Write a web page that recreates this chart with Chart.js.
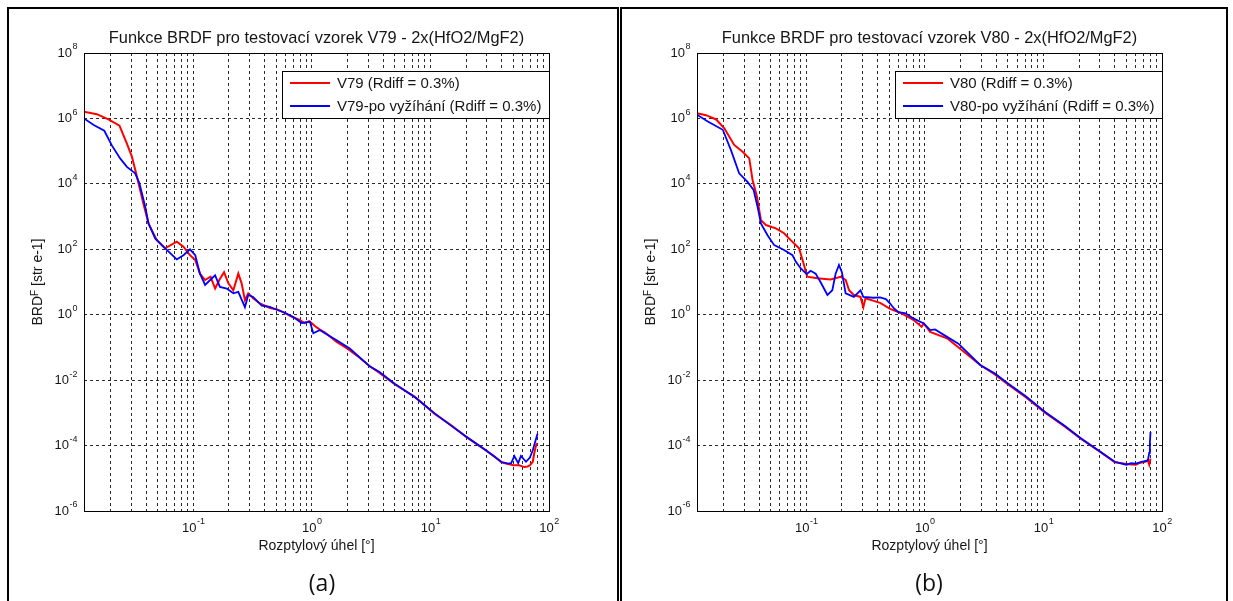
<!DOCTYPE html>
<html>
<head>
<meta charset="utf-8">
<title>Funkce BRDF – V79 / V80</title>
<script src="https://cdn.jsdelivr.net/npm/chart.js@4.4.1/dist/chart.umd.min.js"></script>
<style>
  html, body { margin: 0; padding: 0; background: #fff; width: 1233px; height: 601px; overflow: hidden; }
  .frame { position: absolute; border: 2px solid #000; border-bottom: none; box-sizing: border-box; }
  canvas { position: absolute; left: 0; top: 0; }
  .caption { position: absolute; font-family: "Open Sans", "Liberation Sans", sans-serif; font-size: 23px; color: #111; transform: translateX(-50%); line-height: 1; }
</style>
</head>
<body>
<div class="frame" style="left:7px;top:7px;width:612px;height:620px"></div>
<div class="frame" style="left:620px;top:7px;width:608px;height:620px"></div>
<canvas id="chartA" width="1233" height="601"></canvas>
<canvas id="chartB" width="1233" height="601"></canvas>
<div class="caption" style="left:322px;top:571px">(a)</div>
<div class="caption" style="left:929px;top:571px">(b)</div>

<script>
// ---- axis ranges and ticks (log-log) ----
const X_MIN = 0.012, X_MAX = 100;
const Y_MIN = 1e-6, Y_MAX = 1e8;
const X_LABEL_EXP = [-1, 0, 1, 2];
const Y_LABEL_EXP = [-6, -4, -2, 0, 2, 4, 6, 8];
const X_GRID_MANTISSA = [1, 2, 3, 4, 5, 6, 7, 8, 9];
const X_GRID_DECADES = [-2, -1, 0, 1];

// ---- measured BRDF curves: [scatter angle (deg), BRDF (sr^-1)] ----
const V79 = [
  [0.012, 1.6e6], [0.0154, 1.35e6], [0.0193, 9.3e5], [0.0239, 6.0e5], [0.0276, 1.7e5],
  [0.0304, 6.8e4], [0.033, 2.1e4], [0.0352, 8.0e3], [0.038, 2.5e3], [0.042, 610],
  [0.0493, 190], [0.058, 107], [0.0727, 170], [0.0827, 120], [0.094, 66], [0.104, 47],
  [0.114, 18], [0.126, 11.5], [0.14, 14.5], [0.153, 6.3], [0.166, 11.5], [0.182, 20],
  [0.198, 9.1], [0.218, 5.6], [0.24, 18], [0.256, 9.1], [0.273, 2.8], [0.291, 4.5],
  [0.32, 3.2], [0.365, 2.2], [0.444, 1.6], [0.5, 1.5], [0.574, 1.2], [0.685, 0.85],
  [0.79, 0.7], [0.87, 0.55], [0.95, 0.64], [1.0, 0.55], [1.06, 0.45], [1.17, 0.35],
  [1.3, 0.28], [1.62, 0.148], [2.0, 0.092], [2.5, 0.05], [3.1, 0.026], [3.7, 0.017],
  [5.0, 7.5e-3], [7.4, 3.1e-3], [10.8, 9.5e-4], [15, 4.2e-4], [20, 1.85e-4], [29, 7.3e-5],
  [35, 4.5e-5], [40, 3.0e-5], [46.5, 2.7e-5], [50, 2.5e-5], [56, 2.5e-5], [62, 2.2e-5],
  [66, 2.3e-5], [69, 2.5e-5], [73, 3.2e-5], [75, 5.7e-5], [78, 1.05e-4], [80, 1.2e-4]
];
const V79_ANNEALED = [
  [0.012, 1.0e6], [0.0145, 6.3e5], [0.0178, 4.2e5], [0.0206, 1.5e5], [0.0242, 6.0e4],
  [0.0276, 3.3e4], [0.0324, 2.1e4], [0.0352, 1.05e4], [0.0394, 2.0e3], [0.042, 620],
  [0.0478, 215], [0.056, 120], [0.0727, 49], [0.0827, 66], [0.094, 100], [0.104, 66],
  [0.114, 18], [0.126, 8.1], [0.139, 11.5], [0.153, 16], [0.168, 7.1], [0.192, 6.3],
  [0.218, 4.5], [0.24, 5.0], [0.273, 1.7], [0.291, 4.0], [0.32, 3.5], [0.378, 1.9],
  [0.444, 1.75], [0.473, 1.55], [0.593, 1.15], [0.7, 0.85], [0.82, 0.56], [0.964, 0.61],
  [1.03, 0.27], [1.17, 0.34], [1.29, 0.27], [1.62, 0.166], [2.09, 0.093], [3.1, 0.026],
  [3.7, 0.018], [5.0, 7.8e-3], [7.4, 3.0e-3], [10.8, 9.8e-4], [15, 4.0e-4], [20, 1.9e-4],
  [29, 7.5e-5], [39.6, 3.2e-5], [45, 2.8e-5], [48, 2.9e-5], [51, 4.8e-5], [55, 2.9e-5],
  [58, 4.8e-5], [64, 3.2e-5], [69, 4.3e-5], [73, 7.2e-5], [75, 1.03e-4], [80, 2.3e-4]
];
const V80 = [
  [0.012, 1.43e6], [0.0143, 1.26e6], [0.0174, 9.3e5], [0.0204, 5.0e5], [0.0247, 1.55e5],
  [0.0291, 9.6e4], [0.0331, 6.0e4], [0.0353, 1.3e4], [0.0384, 4.1e3], [0.0415, 780],
  [0.0457, 550], [0.0555, 435], [0.065, 310], [0.074, 190], [0.087, 107], [0.095, 37],
  [0.102, 14.5], [0.124, 13], [0.16, 12], [0.195, 14.5], [0.215, 11.5], [0.23, 5.6],
  [0.252, 4.0], [0.287, 3.5], [0.303, 1.7], [0.316, 3.2], [0.42, 2.3], [0.51, 1.5],
  [0.62, 1.15], [0.8, 0.7], [0.94, 0.43], [0.98, 0.54], [1.11, 0.30], [1.54, 0.19],
  [2.0, 0.09], [2.93, 0.029], [3.9, 0.015], [5.0, 7.5e-3], [7.1, 3.0e-3], [10.4, 1.0e-3],
  [15, 3.9e-4], [20.8, 1.6e-4], [30.6, 6.2e-5], [40, 3.1e-5], [52, 2.7e-5], [60, 2.6e-5],
  [66, 3.0e-5], [72, 3.2e-5], [76, 3.5e-5], [78, 2.6e-5], [80, 4.0e-5]
];
const V80_ANNEALED = [
  [0.012, 1.3e6], [0.0148, 8.0e5], [0.0198, 4.5e5], [0.0232, 1.07e5], [0.0272, 2.1e4],
  [0.032, 1.15e4], [0.036, 6.5e3], [0.0389, 2.0e3], [0.0415, 620], [0.0472, 270],
  [0.0537, 134], [0.065, 95], [0.0766, 66], [0.0816, 42], [0.09, 26], [0.101, 17.5],
  [0.109, 22], [0.12, 18], [0.132, 10], [0.151, 4.0], [0.166, 5.6], [0.177, 18],
  [0.189, 33], [0.2, 20], [0.215, 4.5], [0.252, 3.5], [0.287, 5.6], [0.303, 3.5],
  [0.37, 3.3], [0.42, 3.4], [0.47, 3.0], [0.51, 2.2], [0.55, 1.55], [0.6, 1.2],
  [0.69, 1.1], [0.8, 0.77], [0.98, 0.54], [1.11, 0.34], [1.22, 0.355], [1.54, 0.21],
  [1.92, 0.13], [2.93, 0.029], [3.9, 0.016], [5.0, 8.0e-3], [7.1, 3.2e-3], [10.4, 1.05e-3],
  [15, 4.1e-4], [20.8, 1.65e-4], [30.6, 6.3e-5], [40, 3.2e-5], [50, 2.6e-5], [55, 2.9e-5],
  [60, 2.8e-5], [66, 3.1e-5], [76, 3.5e-5], [78, 6.0e-5], [79, 1.2e-4], [80, 2.6e-4]
];

// ---- text ----
const TITLES = [
  'Funkce BRDF pro testovací vzorek V79 - 2x(HfO2/MgF2)',
  'Funkce BRDF pro testovací vzorek V80 - 2x(HfO2/MgF2)'
];
const SERIES_LABELS = [
  ['V79 (Rdiff = 0.3%)', 'V79-po vyžíhání (Rdiff = 0.3%)'],
  ['V80 (Rdiff = 0.3%)', 'V80-po vyžíhání (Rdiff = 0.3%)']
];
const X_TITLE = 'Rozptylový úhel [°]';
const Y_TITLE_PARTS = ['BRD', 'F', ' [str e-1]'];

const FONT = '"Liberation Sans", Arial, Helvetica, sans-serif';
const TEXT = '#161616';
const RED = '#ff0000';
const BLUE = '#0000ff';

const X_GRID = [];
X_GRID_DECADES.forEach(d => X_GRID_MANTISSA.forEach(m => {
  const v = +(m * Math.pow(10, d)).toPrecision(6);
  if (v >= X_MIN && v <= X_MAX) X_GRID.push(v);
}));
X_GRID.push(X_MAX);
const Y_GRID = Y_LABEL_EXP.map(e => Math.pow(10, e));

// draws "10" with a raised exponent; align: 'center' or 'right'
function drawPow(ctx, exp, x, y, align) {
  const base = '10', sup = String(exp);
  ctx.font = '13px ' + FONT;
  const wb = ctx.measureText(base).width;
  ctx.font = '9px ' + FONT;
  const ws = ctx.measureText(sup).width;
  const total = wb + ws;
  const x0 = align === 'center' ? x - total / 2 : x - total;
  ctx.textAlign = 'left';
  ctx.textBaseline = 'middle';
  ctx.font = '13px ' + FONT;
  ctx.fillText(base, x0, y);
  ctx.font = '9px ' + FONT;
  ctx.fillText(sup, x0 + wb + 0.5, y - 6);
}

const decor = {
  id: 'axesDecor',
  afterDraw(chart, args, opts) {
    const ctx = chart.ctx;
    const a = chart.chartArea;
    const xs = chart.scales.x, ys = chart.scales.y;
    ctx.save();
    ctx.fillStyle = TEXT;

    // axes box
    ctx.strokeStyle = '#000';
    ctx.lineWidth = 1;
    ctx.strokeRect(Math.round(a.left) + 0.5, Math.round(a.top) + 0.5,
                   Math.round(a.right - a.left), Math.round(a.bottom - a.top));

    // tick labels
    Y_LABEL_EXP.forEach(e => drawPow(ctx, e, a.left - 7, ys.getPixelForValue(Math.pow(10, e)), 'right'));
    X_LABEL_EXP.forEach(e => drawPow(ctx, e, xs.getPixelForValue(Math.pow(10, e)), a.bottom + 17, 'center'));

    const cx = (a.left + a.right) / 2;
    // title
    ctx.textAlign = 'center';
    ctx.textBaseline = 'middle';
    ctx.font = '16.4px ' + FONT;
    ctx.fillText(opts.title, cx, a.top - 15);
    // x axis title
    ctx.font = '14px ' + FONT;
    ctx.fillText(X_TITLE, cx, a.bottom + 35);

    // y axis title with superscript F
    ctx.save();
    ctx.translate(a.left - 46, (a.top + a.bottom) / 2);
    ctx.rotate(-Math.PI / 2);
    ctx.textAlign = 'left';
    ctx.textBaseline = 'middle';
    ctx.font = '14px ' + FONT;
    const w0 = ctx.measureText(Y_TITLE_PARTS[0]).width;
    const w2 = ctx.measureText(Y_TITLE_PARTS[2]).width;
    ctx.font = '10px ' + FONT;
    const w1 = ctx.measureText(Y_TITLE_PARTS[1]).width;
    const tx = -(w0 + w1 + w2) / 2;
    ctx.font = '14px ' + FONT;
    ctx.fillText(Y_TITLE_PARTS[0], tx, 0);
    ctx.font = '10px ' + FONT;
    ctx.fillText(Y_TITLE_PARTS[1], tx + w0, -3);
    ctx.font = '14px ' + FONT;
    ctx.fillText(Y_TITLE_PARTS[2], tx + w0 + w1, 0);
    ctx.restore();

    // legend box in the upper right corner of the axes
    ctx.font = '15px ' + FONT;
    const labels = chart.data.datasets.map(d => d.label);
    const tw = Math.max(...labels.map(l => ctx.measureText(l).width));
    const bw = Math.round(55 + tw + 8), bh = 47;
    const bx = Math.round(a.right) - bw, by = Math.round(a.top) + 18;
    ctx.fillStyle = '#fff';
    ctx.fillRect(bx, by, bw, bh);
    ctx.strokeStyle = '#000';
    ctx.lineWidth = 1;
    ctx.strokeRect(bx + 0.5, by + 0.5, bw, bh);
    chart.data.datasets.forEach((d, i) => {
      const ly = by + 12 + i * 23;
      ctx.strokeStyle = d.borderColor;
      ctx.lineWidth = 2;
      ctx.beginPath();
      ctx.moveTo(bx + 8, ly);
      ctx.lineTo(bx + 48, ly);
      ctx.stroke();
      ctx.fillStyle = TEXT;
      ctx.textAlign = 'left';
      ctx.textBaseline = 'middle';
      ctx.fillText(d.label, bx + 55, ly + 1);
    });
    ctx.restore();
  }
};

function axisOptions(min, max, grid) {
  return {
    type: 'logarithmic',
    min, max,
    afterBuildTicks: s => { s.ticks = grid.map(v => ({ value: v })); },
    ticks: { display: false },
    grid: { color: '#2b2b2b', lineWidth: 1, drawTicks: false },
    border: { display: false, dash: [3, 3] }
  };
}

function makeChart(id, title, area, series) {
  return new Chart(document.getElementById(id), {
    type: 'line',
    data: {
      datasets: series.map(s => ({
        label: s.label,
        data: s.data.map(([x, y]) => ({ x, y })),
        borderColor: s.color,
        backgroundColor: s.color,
        borderWidth: s.width,
        order: s.order,
        pointRadius: 0,
        tension: 0,
        fill: false
      }))
    },
    options: {
      responsive: false,
      animation: false,
      devicePixelRatio: 1,
      layout: { padding: { left: area.left, top: area.top, right: 1233 - area.right, bottom: 601 - area.bottom } },
      plugins: {
        legend: { display: false },
        tooltip: { enabled: false },
        axesDecor: { title }
      },
      scales: {
        x: axisOptions(X_MIN, X_MAX, X_GRID),
        y: axisOptions(Y_MIN, Y_MAX, Y_GRID)
      }
    },
    plugins: [decor]
  });
}

makeChart('chartA', TITLES[0], { left: 84, top: 53, right: 549, bottom: 511 }, [
  { label: SERIES_LABELS[0][0], data: V79, color: RED, width: 2, order: 1 },
  { label: SERIES_LABELS[0][1], data: V79_ANNEALED, color: BLUE, width: 1.8, order: 0 }
]);
makeChart('chartB', TITLES[1], { left: 697, top: 53, right: 1162, bottom: 511 }, [
  { label: SERIES_LABELS[1][0], data: V80, color: RED, width: 2, order: 1 },
  { label: SERIES_LABELS[1][1], data: V80_ANNEALED, color: BLUE, width: 1.8, order: 0 }
]);
</script>
</body>
</html>
